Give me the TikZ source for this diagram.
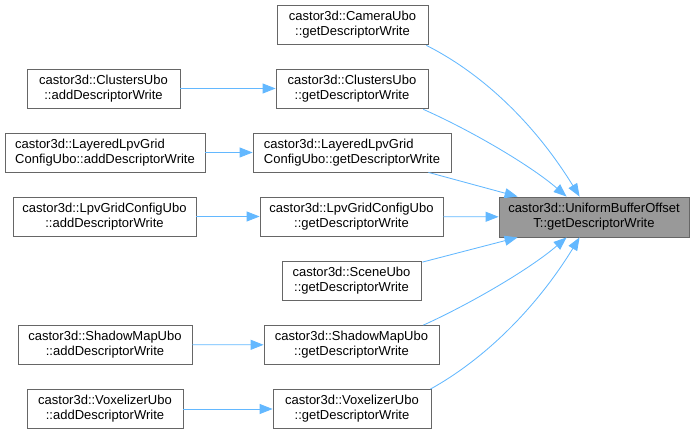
\documentclass[tikz,border=0pt]{standalone}
\usepackage{fontspec}
\setmainfont{Liberation Sans}
\usetikzlibrary{arrows.meta,calc}
\definecolor{edgeblue}{HTML}{63B8FF}
\definecolor{boxborder}{HTML}{666666}
\definecolor{rootfill}{HTML}{999999}
\begin{document}
\begin{tikzpicture}[x=1pt,y=-1pt,
  fn/.style={draw=boxborder, fill=white, line width=0.8pt, minimum height=39pt,
    inner sep=0pt, align=center, font=\fontsize{13}{15}\selectfont},
  rootfn/.style={fn, fill=rootfill, minimum height=40pt},
  edge/.style={draw=edgeblue, line width=0.85pt, -{Triangle[length=13pt,width=10pt]}}]
\useasboundingbox (0,0) rectangle (695,435);

% middle column
\node[fn, minimum width=151pt] (cam) at (352.5,24.5) {castor3d::CameraUbo\\::getDescriptorWrite};
\node[fn, minimum width=152pt] (clu) at (352,88.5) {castor3d::ClustersUbo\\::getDescriptorWrite};
\node[fn, minimum width=198pt] (lay) at (352,152.5) {\rlap{castor3d::LayeredLpvGrid}\phantom{ConfigUbo::getDescriptorWrite}\\ConfigUbo::getDescriptorWrite};
\node[fn, minimum width=183pt] (lpv) at (351.5,216.5) {castor3d::LpvGridConfigUbo\\::getDescriptorWrite};
\node[fn, minimum width=139pt] (sce) at (351.5,281) {castor3d::SceneUbo\\::getDescriptorWrite};
\node[fn, minimum width=175pt] (sha) at (351.5,345) {castor3d::ShadowMapUbo\\::getDescriptorWrite};
\node[fn, minimum width=158pt] (vox) at (352,409) {castor3d::VoxelizerUbo\\::getDescriptorWrite};

% left column
\node[fn, minimum width=153pt] (clua) at (103.5,88.5) {castor3d::ClustersUbo\\::addDescriptorWrite};
\node[fn, minimum width=200pt] (laya) at (105,152.5) {\rlap{castor3d::LayeredLpvGrid}\phantom{ConfigUbo::addDescriptorWrite}\\ConfigUbo::addDescriptorWrite};
\node[fn, minimum width=183pt] (lpva) at (104.5,216.5) {castor3d::LpvGridConfigUbo\\::addDescriptorWrite};
\node[fn, minimum width=174pt] (shaa) at (105,344.5) {castor3d::ShadowMapUbo\\::addDescriptorWrite};
\node[fn, minimum width=156pt] (voxa) at (105,409) {castor3d::VoxelizerUbo\\::addDescriptorWrite};

% target
\node[rootfn, minimum width=190pt] (tgt) at (594,217) {castor3d::UniformBufferOffset\\T::getDescriptorWrite};

% left -> middle
\draw[edge] (clua) -- (clu);
\draw[edge] (laya) -- (lay);
\draw[edge] (lpva) -- (lpv);
\draw[edge] (shaa) -- (sha);
\draw[edge] (voxa) -- (vox);

% middle -> target
\draw[edge] ($(cam.south east)+(-2,1)$) .. controls (483,74) and (535,124) .. ($(tgt.north west)+(81,0)$);
\draw[edge] ($(clu.south east)+(-5,1)$) .. controls (470,130) and (530,165) .. ($(tgt.north west)+(68,0)$);
\draw[edge] ($(lay.south east)+(-23,0)$) -- ($(tgt.north west)+(19,0)$);
\draw[edge] (lpv) -- (tgt);
\draw[edge] ($(sce.north east)+(1,1)$) -- ($(tgt.south west)+(19,0)$);
\draw[edge] ($(sha.north east)+(-16,0)$) .. controls (470,304) and (530,269) .. ($(tgt.south west)+(68,0)$);
\draw[edge] ($(vox.north east)+(-1,0)$) .. controls (483,360) and (535,310) .. ($(tgt.south west)+(81,0)$);
\end{tikzpicture}
\end{document}
